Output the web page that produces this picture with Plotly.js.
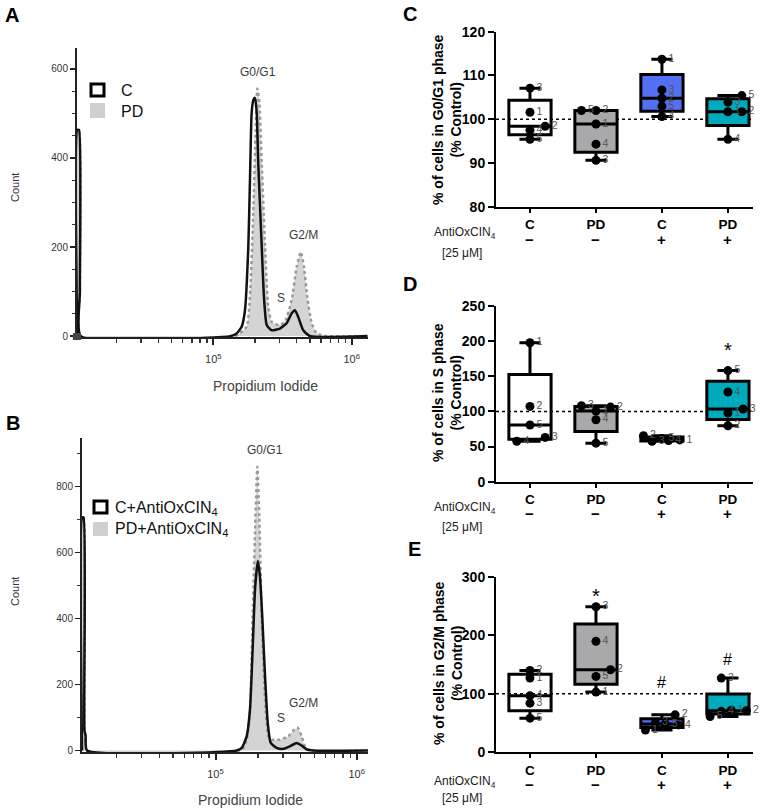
<!DOCTYPE html>
<html>
<head>
<meta charset="utf-8">
<script src="https://cdn.plot.ly/plotly-3.0.1.min.js"></script>
<style>html,body{margin:0;padding:0;background:#fff;}#chart{width:765px;height:811px;}</style>
</head>
<body>
<div id="chart"></div>
<script>
// ---------------- DATA ----------------
// Panel A: cell-cycle histograms (Propidium Iodide intensity vs Count)
const piA_C    = [10390, 10400, 10715, 10864, 11015, 132100, 147600, 160300, 169400, 179100, 184100, 189200, 194500, 200000, 206100, 211300, 223900, 232300, 243200, 264200, 303400, 338800, 368100, 389000, 411100, 446700, 500000, 1300000];
const countA_C = [0, 463, 463, 100, 0, 0, 6, 21, 58, 201, 351, 500, 530, 535, 500, 388, 201, 88, 25, 13, 17, 29, 51, 58, 43, 13, 0, 0];
const piA_PD    = [10390, 10400, 10715, 10864, 11015, 143500, 174200, 184100, 194500, 202300, 208000, 214800, 223900, 236600, 249500, 264200, 295100, 329600, 368100, 400900, 428500, 451900, 477500, 514000, 558500, 659200, 1300000];
const countA_PD = [0, 463, 463, 100, 0, 0, 21, 88, 276, 463, 556, 530, 388, 201, 66, 32, 25, 32, 81, 156, 189, 156, 88, 29, 6, 0, 0];

// Panel B: with AntiOxCIN4
const piB_C    = [11345, 11350, 11641, 11803, 12023, 12303, 141300, 153500, 166300, 175400, 183200, 190500, 199100, 206500, 214300, 224300, 234400, 246100, 271100, 302000, 337300, 375800, 407400, 442600, 493200, 1200000];
const countB_C = [0, 706, 706, 60, 45, 0, 0, 8, 43, 124, 306, 488, 574, 528, 407, 225, 84, 23, 8, 5, 13, 23, 15, 3, 0, 0];
const piB_PD    = [11345, 11350, 11641, 11803, 12023, 12303, 153500, 166300, 175400, 183200, 190500, 197700, 204200, 212300, 224300, 236600, 250000, 286400, 328100, 361400, 381900, 407400, 430500, 466700, 1200000];
const countB_PD = [0, 706, 706, 60, 45, 0, 3, 33, 114, 407, 660, 860, 710, 407, 155, 43, 33, 33, 43, 64, 69, 43, 13, 0, 0];

const histTickVals = [1e5, 1e6];
const histTickText = ['10<sup>5</sup>', '10<sup>6</sup>'];

// Box panels: groups C-, PD-, C+, PD+
const groupLabels = ['C', 'PD', 'C', 'PD'];
const treatSigns  = ['−', '−', '+', '+'];
const pointIds    = ['1', '2', '3', '4', '5'];

// Panel C: % of cells in G0/G1 phase (% Control), points 1..5
const g01_C    = [101.6, 98.4, 107.1, 97.5, 95.4];
const g01_PD   = [98.9, 102.0, 90.6, 94.3, 102.0];
const g01_Cp   = [113.7, 104.8, 106.7, 100.6, 103.0];
const g01_PDp  = [101.7, 101.7, 103.9, 95.4, 105.4];

// Panel D: % of cells in S phase
const s_C   = [197.7, 107.1, 63.0, 57.5, 80.6];
const s_PD  = [100.5, 106.2, 108.1, 88.1, 54.8];
const s_Cp  = [59.5, 65.5, 57.5, 58.5, 61.5];
const s_PDp = [97.7, 79.6, 103.4, 127.7, 158.1];

// Panel E: % of cells in G2/M phase
const g2m_C   = [126.8, 139.9, 84.0, 96.5, 58.3];
const g2m_PD  = [102.9, 141.1, 248.6, 189.6, 129.6];
const g2m_Cp  = [38.0, 64.0, 50.5, 46.8, 48.5];
const g2m_PDp = [72.0, 71.0, 126.8, 70.0, 61.0];

// Significance marks
const sigD = [{g: 3, s: '*'}];
const sigE = [{g: 1, s: '*'}, {g: 2, s: '#'}, {g: 3, s: '#'}];

// ---------------- STYLE / LAYOUT HELPERS ----------------
const W = 765, H = 811;
const PX = v => v / W;
const PY = v => 1 - v / H;
const FONT = 'Liberation Sans, Arial, Helvetica, sans-serif';
const boxFill = ['rgba(255,255,255,0)', '#a9a9ab', '#5470f2', '#00aabd'];

// horizontal scatter offsets (GraphPad-style spreading of overlapping points)
const jit = {
  c: [[0, 0.23, 0, 0, 0], [0, 0, 0, 0, -0.22], [0, 0, 0, 0, 0], [0, 0.21, 0, 0, 0.21]],
  d: [[0, 0, 0.23, -0.2, 0], [0, 0.22, -0.22, 0, 0], [0.27, -0.28, -0.15, 0.1, 0], [0, 0, 0.23, 0, 0]],
  e: [[0, 0, 0, 0, 0], [0, 0.22, 0, 0, 0], [-0.25, 0.2, -0.1, 0.25, 0.05], [0.05, 0.28, -0.1, -0.1, -0.27]]
};

const traces = [];

function hist(x, y, xa, ya, isPD) {
  traces.push({
    type: 'scatter', mode: 'lines', x: x, y: y, xaxis: xa, yaxis: ya,
    line: isPD ? {color: '#9a9a9a', width: 2.5, dash: 'dot', shape: 'spline', smoothing: 0.5}
               : {color: '#111', width: 2.5, shape: 'spline', smoothing: 0.5},
    fill: isPD ? 'tozeroy' : 'none', fillcolor: '#d4d4d4',
    hoverinfo: 'skip', showlegend: false
  });
}
hist(piA_PD, countA_PD, 'x', 'y', true);
hist(piA_C, countA_C, 'x', 'y', false);
hist(piB_PD, countB_PD, 'x2', 'y2', true);
hist(piB_C, countB_C, 'x2', 'y2', false);

function boxPanel(groups, ax, jitter) {
  groups.forEach((vals, g) => {
    traces.push({
      type: 'box', y: vals, x0: g, width: 0.64, boxpoints: false, whiskerwidth: 0.5,
      quartilemethod: 'exclusive', line: {color: '#000', width: 3}, fillcolor: boxFill[g],
      xaxis: 'x' + ax, yaxis: 'y' + ax, hoverinfo: 'skip', showlegend: false
    });
  });
  groups.forEach((vals, g) => {
    traces.push({
      type: 'scatter', mode: 'markers+text', x: vals.map((v, k) => g + jitter[g][k]), y: vals,
      text: pointIds, textposition: 'middle right', textfont: {size: 10.5, color: '#555', family: FONT},
      marker: {color: '#000', size: 9}, cliponaxis: false,
      xaxis: 'x' + ax, yaxis: 'y' + ax, hoverinfo: 'skip', showlegend: false
    });
  });
}
boxPanel([g01_C, g01_PD, g01_Cp, g01_PDp], 3, jit.c);
boxPanel([s_C, s_PD, s_Cp, s_PDp], 4, jit.d);
boxPanel([g2m_C, g2m_PD, g2m_Cp, g2m_PDp], 5, jit.e);

const minorLog = [2e4,3e4,4e4,5e4,6e4,7e4,8e4,9e4,2e5,3e5,4e5,5e5,6e5,7e5,8e5,9e5];
function histX(x0, x1, r, anchor) {
  return {domain: [PX(x0), PX(x1)], range: r, type: 'log', anchor: anchor,
    tickmode: 'array', tickvals: histTickVals, ticktext: histTickText,
    ticks: 'outside', ticklen: 6, tickwidth: 2, tickcolor: '#222', ticklabelstandoff: 5,
    showline: true, linewidth: 2, linecolor: '#222', showgrid: false, zeroline: false,
    tickfont: {size: 11, color: '#333', family: FONT},
    minor: {tickmode: 'array', tickvals: minorLog, ticks: 'outside', ticklen: 4, tickwidth: 1.3, tickcolor: '#333', showgrid: false}};
}
function histY(y0, y1, r, anchor, tv, mdt) {
  return {domain: [PY(y1), PY(y0)], range: r, anchor: anchor, tickmode: 'array', tickvals: tv,
    ticks: 'outside', ticklen: 5, tickwidth: 1.5, tickcolor: '#222',
    showline: true, linewidth: 2, linecolor: '#222', showgrid: false, zeroline: false,
    tickfont: {size: 10, color: '#333', family: FONT},
    minor: {dtick: mdt, ticks: 'outside', ticklen: 3, tickwidth: 1.2, tickcolor: '#333', showgrid: false}};
}
function boxX(anchor) {
  return {domain: [PX(496), PX(753)], range: [-0.515, 3.38], anchor: anchor,
    tickmode: 'array', tickvals: [0, 1, 2, 3], ticktext: groupLabels.map(s => '<b>' + s + '</b>'),
    ticks: 'outside', ticklen: 4, tickwidth: 2, tickcolor: '#000',
    showline: true, linewidth: 2, linecolor: '#000', showgrid: false, zeroline: false,
    tickfont: {size: 13.5, color: '#000', family: FONT}};
}
function boxY(y0, y1, r, dt, anchor) {
  const tv = [];
  for (let v = r[0]; v <= r[1] + 1e-9; v += dt) tv.push(v);
  return {domain: [PY(y1), PY(y0)], range: r, anchor: anchor,
    tickmode: 'array', tickvals: tv, ticktext: tv.map(v => '<b>' + v + '</b>'),
    ticks: 'outside', ticklen: 6, tickwidth: 2, tickcolor: '#000',
    showline: true, linewidth: 2, linecolor: '#000', showgrid: false, zeroline: false,
    tickfont: {size: 14, color: '#000', family: FONT}};
}

const ann = [];
function T(text, x, y, o) {
  o = o || {};
  ann.push(Object.assign({text: text, x: PX(x), y: PY(y), xref: 'paper', yref: 'paper', showarrow: false,
    xanchor: 'center', yanchor: 'middle', font: {size: 11, color: '#000', family: FONT}}, o));
}
// panel letters
T('<b>A</b>', 12, 15, {font: {size: 20, family: FONT}});
T('<b>B</b>', 12.5, 423, {font: {size: 20, family: FONT}});
T('<b>C</b>', 410, 14, {font: {size: 20, family: FONT}});
T('<b>D</b>', 410, 284, {font: {size: 20, family: FONT}});
T('<b>E</b>', 415, 549, {font: {size: 20, family: FONT}});
// histogram texts
const phaseFont = {size: 12, color: '#3a3a3a', family: FONT};
T('G0/G1', 258, 72, {font: phaseFont});
T('S', 281, 298, {font: phaseFont});
T('G2/M', 303, 235, {font: phaseFont});
T('G0/G1', 265, 450, {font: phaseFont});
T('S', 281, 718, {font: phaseFont});
T('G2/M', 303, 703, {font: phaseFont});
T('Count', 15, 188, {textangle: -90, font: {size: 11, color: '#333', family: FONT}});
T('Count', 15, 592, {textangle: -90, font: {size: 11, color: '#333', family: FONT}});
T('Propidium Iodide', 265, 386, {font: {size: 14, color: '#444', family: FONT}});
T('Propidium Iodide', 250, 800, {font: {size: 14, color: '#444', family: FONT}});
// legends
const legFont = {size: 16, color: '#111', family: FONT};
T('C', 119, 90, {xanchor: 'left', font: legFont});
T('PD', 119, 111, {xanchor: 'left', font: legFont});
T('C+AntiOxCIN<sub>4</sub>', 113, 508, {xanchor: 'left', font: legFont});
T('PD+AntiOxCIN<sub>4</sub>', 113, 529, {xanchor: 'left', font: legFont});

// box panel texts
function boxTexts(ax, ySign, yAnti, yConc, titleLines, titleX, titleY) {
  T('<b>' + titleLines[0] + '</b><br><b>' + titleLines[1] + '</b>', titleX, titleY,
    {textangle: -90, font: {size: 14, color: '#000', family: FONT}});
  T('AntiOxCIN<sub>4</sub>', 498, yAnti, {xanchor: 'right', font: {size: 12, color: '#222', family: FONT}});
  T('[25 μM]', 462, yConc, {font: {size: 12, color: '#222', family: FONT}});
  treatSigns.forEach((s, g) => {
    ann.push({text: '<b>' + s + '</b>', x: g, y: PY(ySign), xref: 'x' + ax, yref: 'paper', showarrow: false,
      xanchor: 'center', yanchor: 'middle', font: {size: 15, color: '#000', family: FONT}});
  });
}
boxTexts(3, 239, 233, 253, ['% of cells in G0/G1 phase', '(% Control)'], 447, 120);
boxTexts(4, 513, 508, 527, ['% of cells in S phase', '(% Control)'], 447, 393);
boxTexts(5, 784, 782, 798, ['% of cells in G2/M phase', '(% Control)'], 448, 663);

sigD.forEach(m => ann.push({text: m.s, x: m.g, y: PY(350), xref: 'x4', yref: 'paper', showarrow: false,
  xanchor: 'center', yanchor: 'middle', font: {size: 20, color: '#000', family: FONT}}));
const sigEy = [596, 682, 659];
sigE.forEach((m, i) => ann.push({text: m.s, x: m.g, y: PY(sigEy[i]), xref: 'x5', yref: 'paper', showarrow: false,
  xanchor: 'center', yanchor: 'middle', font: {size: m.s === '*' ? 20 : 16, color: '#000', family: FONT}}));

const shapes = [];
// legend swatches
shapes.push({type: 'rect', xref: 'paper', yref: 'paper', x0: PX(91), x1: PX(104), y0: PY(96), y1: PY(84), line: {color: '#000', width: 3}, fillcolor: 'rgba(0,0,0,0)'});
shapes.push({type: 'rect', xref: 'paper', yref: 'paper', x0: PX(90), x1: PX(105), y0: PY(118), y1: PY(103), line: {width: 0}, fillcolor: '#cfcfcf'});
shapes.push({type: 'rect', xref: 'paper', yref: 'paper', x0: PX(94), x1: PX(107), y0: PY(513), y1: PY(501), line: {color: '#000', width: 3}, fillcolor: 'rgba(0,0,0,0)'});
shapes.push({type: 'rect', xref: 'paper', yref: 'paper', x0: PX(93), x1: PX(108), y0: PY(536), y1: PY(522), line: {width: 0}, fillcolor: '#cfcfcf'});
// corner block in A
shapes.push({type: 'rect', xref: 'paper', yref: 'paper', x0: PX(73), x1: PX(81), y0: PY(340), y1: PY(333), line: {width: 0}, fillcolor: '#444'});
// 100% reference lines
[3, 4, 5].forEach(a => shapes.push({type: 'line', xref: 'x' + a + ' domain', yref: 'y' + a, x0: 0, x1: 1, y0: 100, y1: 100,
  line: {color: '#000', width: 1.5, dash: 'dot'}, layer: 'below'}));

const layout = {
  width: W, height: H, margin: {l: 0, r: 0, t: 0, b: 0}, autosize: false,
  paper_bgcolor: '#fff', plot_bgcolor: 'rgba(0,0,0,0)', showlegend: false,
  font: {family: FONT, color: '#000'}, boxmode: 'overlay',
  xaxis: histX(77, 368, [4.015, 6.118], 'y'),
  yaxis: histY(48, 337, [-2, 647], 'x', [0, 200, 400, 600], 50),
  xaxis2: histX(82, 368, [4.0545, 6.08], 'y2'),
  yaxis2: histY(438, 752, [-4.5, 947], 'x2', [0, 200, 400, 600, 800], 100),
  xaxis3: boxX('y3'), yaxis3: boxY(31.7, 206.7, [80, 120], 10, 'x3'),
  xaxis4: boxX('y4'), yaxis4: boxY(306, 481.7, [0, 250], 50, 'x4'),
  xaxis5: boxX('y5'), yaxis5: boxY(576.7, 752.3, [0, 300], 100, 'x5'),
  annotations: ann, shapes: shapes
};

Plotly.newPlot('chart', traces, layout, {staticPlot: true, displayModeBar: false});
</script>
</body>
</html>
